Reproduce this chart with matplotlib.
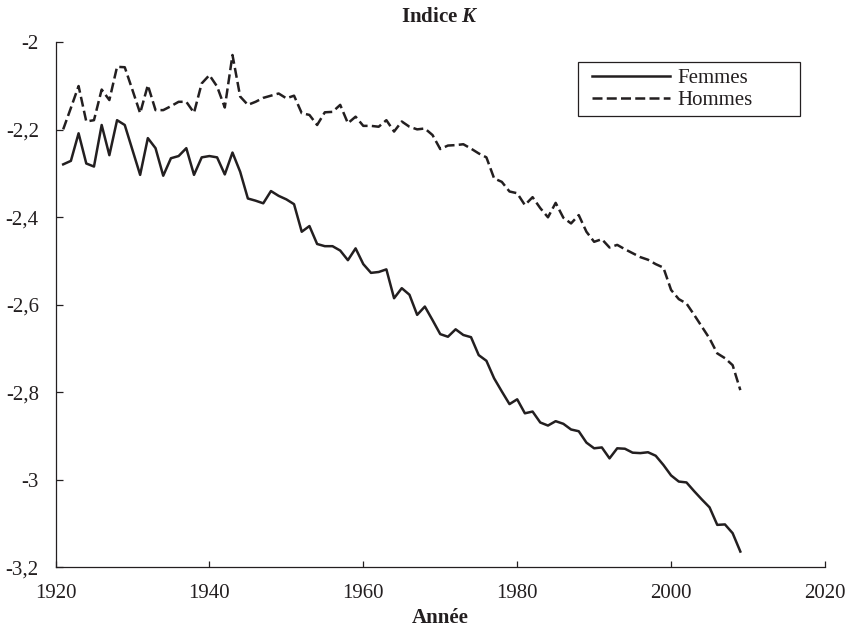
import matplotlib
matplotlib.use('Agg')
import matplotlib.pyplot as plt
from matplotlib.patches import Rectangle

# Annual values of the K index, 1921-2009
years = list(range(1921, 2010))

femmes = [-2.279, -2.271, -2.208, -2.277, -2.284, -2.189, -2.258, -2.178, -2.189, -2.246,
          -2.303, -2.219, -2.242, -2.305, -2.265, -2.260, -2.242, -2.303, -2.263, -2.260,
          -2.263, -2.302, -2.252, -2.296, -2.357, -2.362, -2.368, -2.340, -2.351, -2.359,
          -2.370, -2.433, -2.420, -2.461, -2.466, -2.466, -2.476, -2.498, -2.471, -2.507,
          -2.527, -2.525, -2.519, -2.585, -2.562, -2.577, -2.623, -2.604, -2.635, -2.667,
          -2.673, -2.656, -2.669, -2.674, -2.715, -2.728, -2.768, -2.798, -2.827, -2.816,
          -2.848, -2.844, -2.869, -2.876, -2.866, -2.872, -2.885, -2.889, -2.915, -2.928,
          -2.926, -2.951, -2.928, -2.929, -2.938, -2.939, -2.937, -2.945, -2.966, -2.990,
          -3.004, -3.006, -3.026, -3.045, -3.063, -3.103, -3.102, -3.122, -3.164]

hommes = [-2.199, -2.150, -2.100, -2.181, -2.178, -2.108, -2.132, -2.056, -2.057, -2.109,
          -2.162, -2.098, -2.155, -2.155, -2.146, -2.136, -2.136, -2.161, -2.094, -2.075,
          -2.101, -2.149, -2.029, -2.124, -2.143, -2.136, -2.127, -2.122, -2.117, -2.128,
          -2.122, -2.162, -2.166, -2.189, -2.160, -2.159, -2.143, -2.185, -2.170, -2.191,
          -2.191, -2.193, -2.178, -2.204, -2.181, -2.193, -2.199, -2.197, -2.212, -2.244,
          -2.236, -2.235, -2.233, -2.243, -2.254, -2.263, -2.311, -2.319, -2.341, -2.345,
          -2.372, -2.354, -2.379, -2.400, -2.367, -2.401, -2.414, -2.395, -2.433, -2.456,
          -2.450, -2.469, -2.463, -2.473, -2.482, -2.491, -2.497, -2.507, -2.515, -2.566,
          -2.587, -2.597, -2.623, -2.650, -2.677, -2.711, -2.722, -2.738, -2.795]

xticks = [1920, 1940, 1960, 1980, 2000, 2020]
yticks = [-3.2, -3.0, -2.8, -2.6, -2.4, -2.2, -2.0]
ytick_labels = ['-3,2', '-3', '-2,8', '-2,6', '-2,4', '-2,2', '-2']

ink = '#231f20'

plt.rcParams['font.family'] = ['Liberation Serif', 'DejaVu Serif']
plt.rcParams['mathtext.fontset'] = 'custom'
plt.rcParams['mathtext.rm'] = 'Liberation Serif'
plt.rcParams['mathtext.it'] = 'Liberation Serif:italic:bold'
plt.rcParams['mathtext.bf'] = 'Liberation Serif:bold'

fig = plt.figure(figsize=(8.48, 6.3), dpi=100)
ax = fig.add_axes([0.06545, 0.09952, 0.9074, 0.83333])

ax.plot(years, femmes, color=ink, lw=1.8, label='Femmes')
ax.plot(years, hommes, color=ink, lw=1.8, linestyle=(0, (4.0, 1.7)), label='Hommes')

ax.set_xlim(1920, 2020)
ax.set_ylim(-3.2, -2.0)
ax.set_xticks(xticks)
ax.set_xticklabels([str(x) for x in xticks])
ax.set_yticks(yticks)
ax.set_yticklabels(ytick_labels)

for side in ['top', 'right']:
    ax.spines[side].set_visible(False)
for side in ['left', 'bottom']:
    ax.spines[side].set_color(ink)
    ax.spines[side].set_linewidth(0.9)

ax.tick_params(axis='x', direction='in', length=4.5, width=0.9, pad=12,
               labelsize=15, colors=ink)
ax.tick_params(axis='y', direction='in', length=5, width=0.9, pad=12,
               labelsize=15, colors=ink)

# Legend without frame, frame drawn separately to get the wide box
leg = ax.legend(loc='upper left', bbox_to_anchor=(591.7 / 848, 1 - 68.5 / 630),
                bbox_transform=fig.transFigure, frameon=False, fontsize=15,
                handlelength=3.75, handletextpad=0.35, borderpad=0,
                borderaxespad=0, labelspacing=0.13)
for t in leg.get_texts():
    t.set_color(ink)
fig.patches.append(Rectangle((578 / 848, 1 - 116 / 630), 222 / 848, 54 / 630,
                             transform=fig.transFigure, fill=False,
                             edgecolor=ink, lw=0.9))

fig.text(440 / 848, 1 - 21.7 / 630, 'Indice $K$', ha='center', va='baseline',
         fontsize=15, fontweight='bold', color=ink)
fig.text(440 / 848, 1 - 623 / 630, 'Année', ha='center', va='baseline',
         fontsize=15, fontweight='bold', color=ink)

fig.savefig('out.png', dpi=100)
